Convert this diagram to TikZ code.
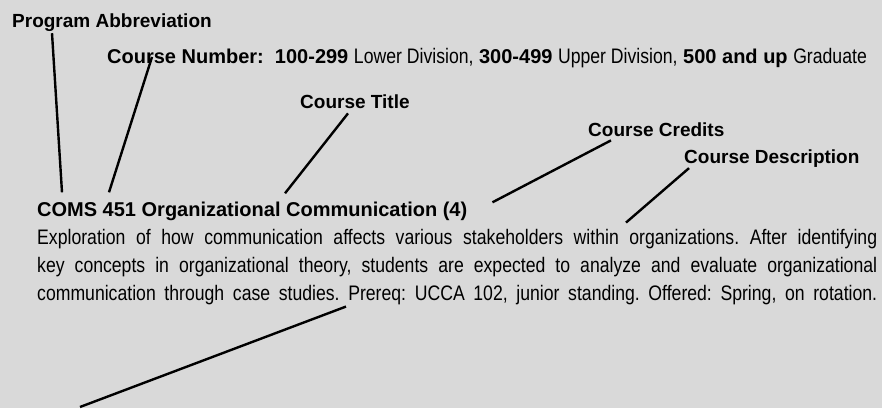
\documentclass[tikz,border=0pt]{standalone}
\usepackage{fontspec}
\setmainfont{Liberation Sans}
\usetikzlibrary{positioning}
\definecolor{PageBg}{HTML}{D9D9D9}
\newcommand{\lite}[1]{\scalebox{0.84}[1]{\mdseries\fontsize{21}{24}\selectfont #1}}
\newcommand{\fullline}[1]{\scalebox{0.84}[1]{\hbox to 1000pt{\spaceskip=5.8pt plus 40pt minus 1pt\relax #1}}}
\frenchspacing

\begin{document}
\begin{tikzpicture}[
        x=1pt, y=-1pt,
        labeltext/.style={font=\fontsize{19}{22}\selectfont\bfseries, inner sep=0pt, anchor=base west},
        headtext/.style={font=\fontsize{20}{24}\selectfont\bfseries, inner sep=0pt, anchor=base west},
        bodytext/.style={font=\fontsize{21}{27.5}\selectfont, inner sep=0pt, text width=840pt, align=left, anchor=base west},
        pointer/.style={line width=2.4pt, draw=black}
    ]
        \fill[PageBg] (0,0) rectangle (882,408);

        \node[labeltext] (prog) at (12,28) {Program Abbreviation};
        \node[headtext] (num) at (107,64) {Course Number:\ \ 100-299 \lite{Lower Division,} 300-499 \lite{Upper Division,} 500 and up \lite{Graduate}};
        \node[labeltext] (title) at (300,109) {Course Title};
        \node[labeltext] (credits) at (588,137) {Course Credits};
        \node[labeltext] (descr) at (684,164) {Course Description};

        \node[headtext] (coms) at (37,217) {COMS 451 Organizational Communication (4)};
        \node[bodytext] (body) at (37,245) {%
            \fullline{Exploration of how communication affects various stakeholders within organizations. After identifying}\\
            \fullline{key concepts in organizational theory, students are expected to analyze and evaluate organizational}\\
            \fullline{communication through case studies. Prereq: UCCA 102, junior standing. Offered: Spring, on rotation.}};

        \coordinate (cut) at (80,407);

        \draw[pointer] ([xshift=40pt,yshift=-1pt]prog.south west) -- ([xshift=25pt,yshift=10pt]coms.north west);
        \draw[pointer] ([xshift=45pt,yshift=7pt]num.base west) -- ([xshift=72pt,yshift=10pt]coms.north west);
        \draw[pointer] ([xshift=48pt,yshift=-4pt]title.south west) -- ([xshift=248pt,yshift=9pt]coms.north west);
        \draw[pointer] ([xshift=23pt,yshift=-3pt]credits.south west) -- ([xshift=25pt]coms.north east);
        \draw[pointer] ([xshift=5pt]descr.south west) -- ([xshift=589pt,yshift=7pt]body.north west);
        \draw[pointer] ([xshift=309pt,yshift=-2pt]body.south west) -- (cut);
    \end{tikzpicture}
\end{document}
